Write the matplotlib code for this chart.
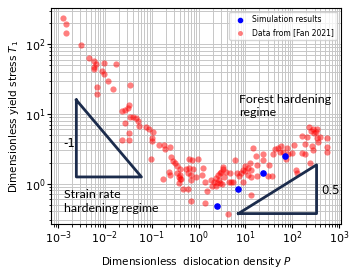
import numpy as np
from matplotlib import pyplot as plt

log_P_fan = [-2.90, -2.84, -2.84, -2.51, -2.35, -2.23, -2.19, -2.23, -2.23, -2.02,
             -1.76, -2.06, -2.02, -1.94, -2.17, -2.17, -1.82, -1.46, -1.64, -1.57,
             -1.50, -1.48, -1.57, -1.46, -1.40, -1.34, -1.30, -1.28, -1.49, -1.12,
             -1.05, -0.97, -1.63, -1.49, -1.00, -1.00, -1.02, -0.85, -0.74, -0.60,
             -0.72, -0.59, -0.54, -0.50, -0.64, -0.60, -0.75, -0.45, -0.42, -0.37,
             -0.41, -0.46, -0.21, -0.14, -0.02, -0.20, -0.12, -0.22, -0.16, -0.16,
             -0.34, -0.23, -0.05, 0.13, 0.18, -0.16, 0.13, 0.27, 0.34, 0.38,
             0.41, 0.45, 0.48, 0.52, 0.43, 0.45, 0.54, 0.59, 0.65, 0.62,
             -0.39, -0.26, -0.40, -0.40, 0.08, 0.29, 0.40, 0.38, 0.51, 0.69,
             0.53, 0.77, 0.83, 0.86, 0.90, 0.95, 0.99, 1.06, 1.11, 1.00,
             1.05, 1.11, 0.67, 0.73, 0.95, 1.13, 1.24, 1.17, 1.24, 1.38,
             1.37, 1.49, 1.56, 1.58, 1.63, 1.69, 1.74, 1.77, 1.81, 1.88,
             1.86, 1.92, 2.04, 1.99, 2.20, 2.27, 2.42, 2.44, 2.20, 2.31,
             2.46, 2.52, 2.74, 2.74, 2.75, 2.36, 2.44, 2.53, 2.50, 2.41,
             2.55, 2.59, 2.27, 2.09, 2.10, 2.39, 1.10, 0.09, 1.50, 1.23]
log_T_fan = [2.37, 2.29, 2.16, 1.99, 1.80, 1.76, 1.71, 1.67, 1.65, 1.73,
             1.72, 1.61, 1.58, 1.48, 1.38, 1.28, 1.36, 1.42, 1.04, 1.06,
             1.08, 1.13, 0.87, 0.95, 0.96, 0.94, 0.90, 0.83, 0.73, 0.81,
             0.78, 0.74, 0.62, 0.62, 0.65, 0.61, 0.35, 0.55, 0.55, 0.52,
             0.49, 0.38, 0.32, 0.29, 0.17, 0.12, 0.07, 0.15, 0.10, 0.06,
             0.01, 0.25, 0.36, 0.34, 0.35, 0.22, 0.21, 0.15, 0.12, 0.05,
             -0.08, -0.07, 0.10, 0.03, -0.11, -0.25, -0.28, 0.05, 0.03, 0.08,
             0.12, 0.15, 0.17, 0.21, 0.05, 0.01, 0.10, 0.17, 0.03, -0.43,
             0.21, 0.21, 0.13, 0.06, 0.13, -0.03, 0.01, -0.04, -0.01, 0.03,
             0.24, 0.34, 0.15, 0.11, 0.15, 0.20, 0.25, 0.22, 0.20, 0.18,
             0.13, 0.10, 0.15, 0.03, 0.03, -0.17, 0.27, 0.51, 0.11, 0.43,
             0.34, 0.11, 0.11, 0.43, 0.49, 0.51, 0.45, 0.54, 0.46, 0.51,
             0.35, 0.42, 0.56, 0.44, 0.44, 0.43, 0.54, 0.48, 0.68, 0.67,
             0.73, 0.65, 0.65, 0.53, 0.45, 0.81, 0.78, 0.79, 0.74, 0.76,
             0.60, 0.67, 0.57, 0.20, 0.15, 0.30, 0.29, 0.22, 0.27, 0.39]

## simulation results
log_P_sim = [0.40, 0.85, 1.37, 1.85]
log_T_sim = [-0.32, -0.08, 0.15, 0.40]

x_ticks = [1e-3, 1e-2, 1e-1, 1e0, 1e1, 1e2, 1e3]
y_ticks = [1e0, 1e1, 1e2]

P_fan = 10 ** np.array(log_P_fan)
T_fan = 10 ** np.array(log_T_fan)
P_sim = 10 ** np.array(log_P_sim)
T_sim = 10 ** np.array(log_T_sim)

navy = '#1c2c4c'

fig = plt.figure(figsize=(3.57, 2.68), dpi=100)
ax = fig.add_axes([0.143, 0.164, 0.812, 0.806])

ax.scatter(P_sim, T_sim, s=14, color='blue', zorder=4, label='Simulation results')
ax.scatter(P_fan, T_fan, s=20, color='red', alpha=0.5, linewidths=0, zorder=3,
           label='Data from [Fan 2021]')

ax.set_xscale('log')
ax.set_yscale('log')
ax.set_xticks(x_ticks)
ax.set_yticks(y_ticks)
ax.set_xlim(10 ** -3.15, 10 ** 3.04)
ax.set_ylim(10 ** -0.58, 10 ** 2.52)
ax.grid(True, which='both', color='0.78', lw=0.7)
ax.set_axisbelow(True)
ax.tick_params(labelsize=8, pad=1)
ax.tick_params(which='major', length=3)
ax.tick_params(which='minor', length=1.8)
ax.set_xlabel('Dimensionless  dislocation density $P$', fontsize=7.5)
ax.set_ylabel('Dimensionless yield stress $T_1$', fontsize=7.5)
ax.xaxis.set_label_coords(0.5, -0.145)
ax.yaxis.set_label_coords(-0.105, 0.5)

## slope triangles
ax.plot(10 ** np.array([-2.61, -2.61, -1.22, -2.61]),
        10 ** np.array([1.20, 0.096, 0.096, 1.20]), color=navy, lw=2, zorder=5)
ax.plot(10 ** np.array([0.85, 2.52, 2.52, 0.85]),
        10 ** np.array([-0.43, -0.43, 0.27, -0.43]), color=navy, lw=2, zorder=5)
ax.text(10 ** -2.76, 10 ** 0.58, '-1', fontsize=8.5, ha='center', va='center')
ax.text(10 ** 2.82, 10 ** -0.10, '0.5', fontsize=8.5, ha='center', va='center')

ax.text(10 ** 0.87, 10 ** 1.29, 'Forest hardening\nregime', fontsize=8.9,
        family='Lato', ha='left', va='top', linespacing=1.3)
ax.text(10 ** -2.87, 10 ** -0.08, 'Strain rate\nhardening regime', fontsize=8.9,
        family='Lato', ha='left', va='top', linespacing=1.3)

ax.legend(loc='upper right', fontsize=5.5, framealpha=0.8, borderpad=0.4,
          handletextpad=0.6, markerscale=0.8)

fig.savefig('out.png', dpi=100)
